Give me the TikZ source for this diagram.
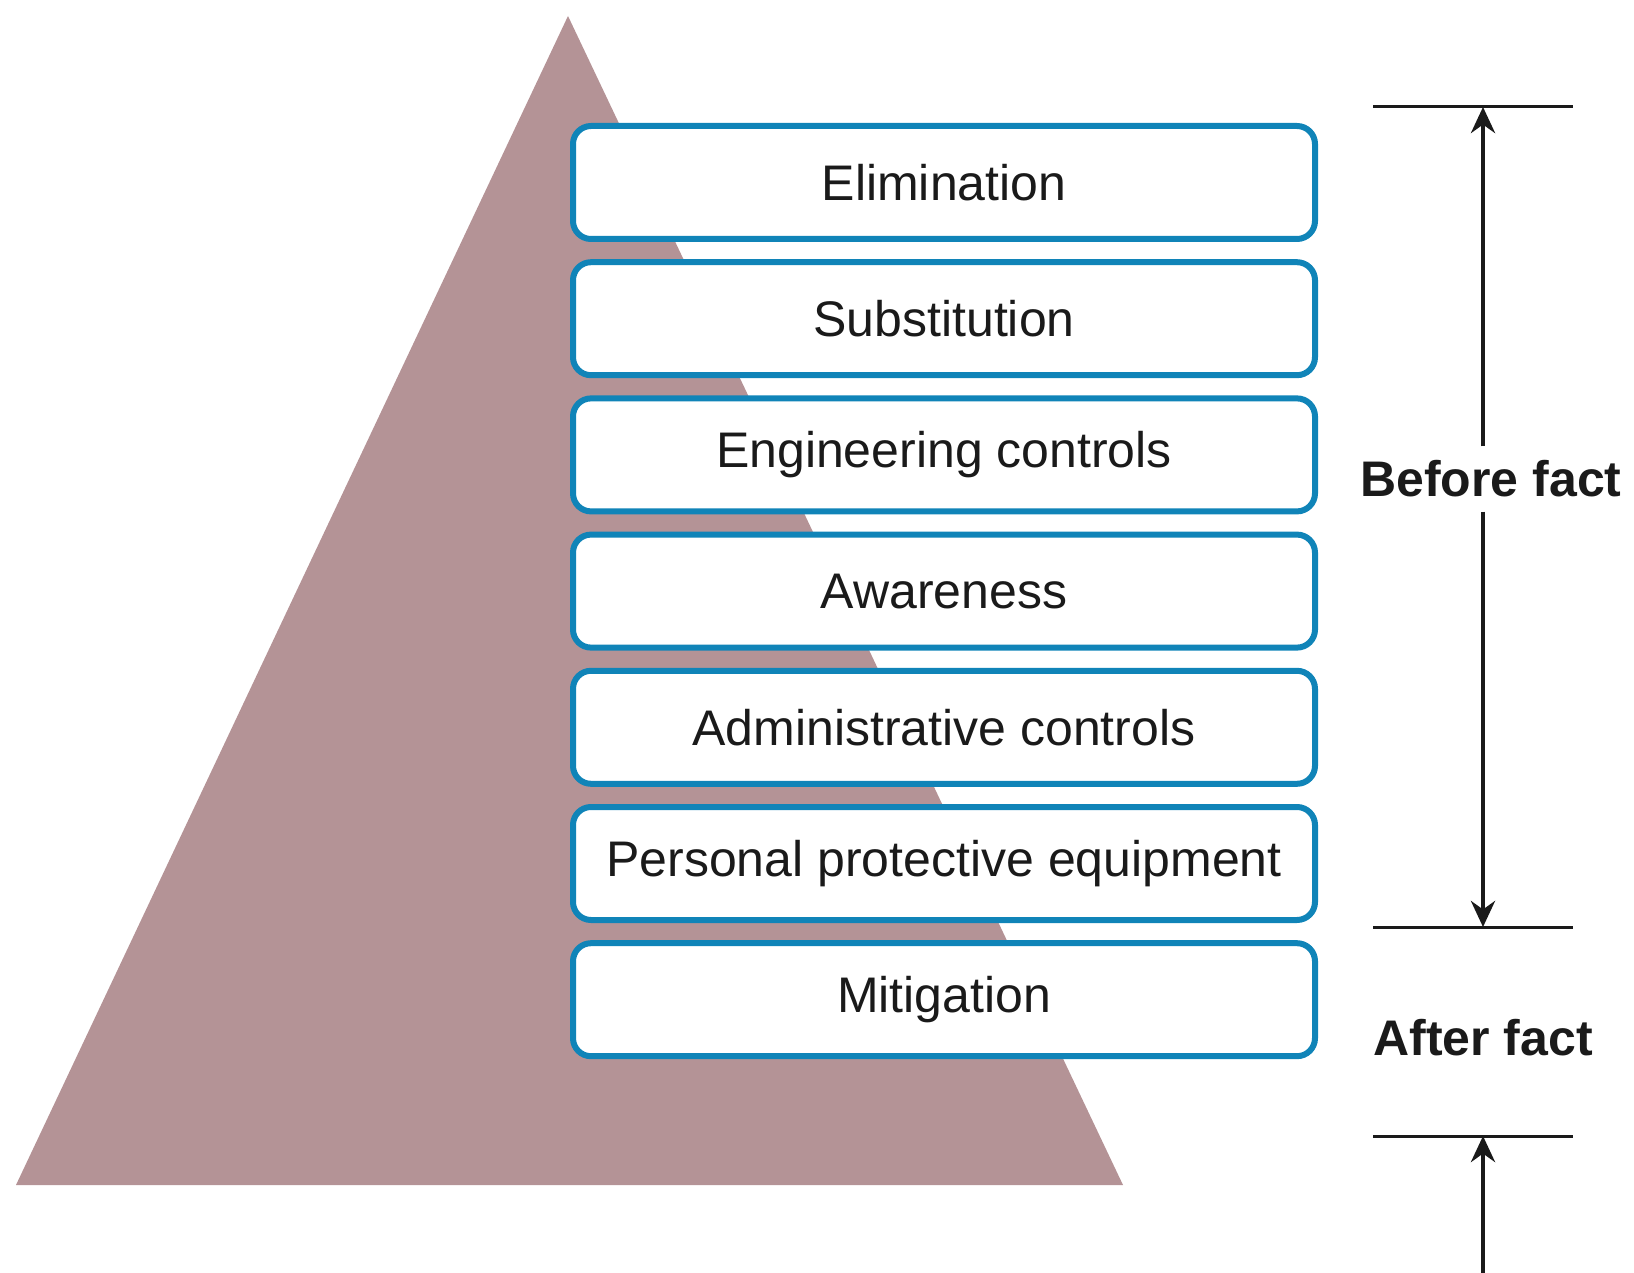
\documentclass[tikz,border=0pt]{standalone}
\usepackage{fontspec}
\setmainfont{Liberation Sans}
\usetikzlibrary{arrows.meta}
\definecolor{pyr}{RGB}{180,147,150}
\definecolor{boxblue}{RGB}{16,132,184}
\definecolor{ink}{RGB}{26,26,26}
\begin{document}
\begin{tikzpicture}[x=1pt,y=-1pt,
  level/.style={draw=boxblue, line width=6pt, fill=white, rounded corners=18pt,
    minimum width=742pt, minimum height=113pt, inner sep=0pt,
    font=\fontsize{50}{60}\selectfont, text=ink},
  tag/.style={font=\fontsize{50}{60}\selectfont\bfseries, text=ink, inner xsep=2pt, inner ysep=14pt},
  rulel/.style={line width=3pt, draw=ink},
  dimarrow/.style={line width=4.5pt, draw=ink, -{Stealth[length=26pt,width=24pt]}}]
\useasboundingbox (0,0) rectangle (1634,1273);
% pyramid
\fill[pyr] (568,16) -- (1123,1185) -- (16,1185) -- cycle;
% levels
\node[level] (l1) at (944,182.5) {Elimination};
\node[level] (l2) at (944,318.7) {Substitution};
\node[level] (l3) at (944,454.9) {Engineering controls};
\node[level] (l4) at (944,591.1) {Awareness};
\node[level] (l5) at (944,727.3) {Administrative controls};
\node[level] (l6) at (944,863.5) {Personal protective equipment};
\node[level] (l7) at (944,999.7) {Mitigation};
% right-hand rules
\coordinate (r1a) at (1373,107);  \coordinate (r1b) at (1573,107);
\coordinate (r2a) at (1373,927);  \coordinate (r2b) at (1573,927);
\coordinate (r3a) at (1373,1136); \coordinate (r3b) at (1573,1136);
\draw[rulel] (r1a) -- (r1b);
\draw[rulel] (r2a) -- (r2b);
\draw[rulel] (r3a) -- (r3b);
% arrow positions
\coordinate (a1) at (1483,107);
\coordinate (a2) at (1483,927);
\coordinate (a3) at (1483,1136);
\coordinate (a4) at (1483,1273);
% labels
\node[tag] (bf) at (1491,479) {Before fact};
\node[tag] (af) at (1483,1038) {After fact};
% arrows
\draw[dimarrow] (bf.north -| a1) -- (a1);
\draw[dimarrow] (bf.south -| a2) -- (a2);
\draw[dimarrow] (a4) -- (a3);
\end{tikzpicture}
\end{document}
